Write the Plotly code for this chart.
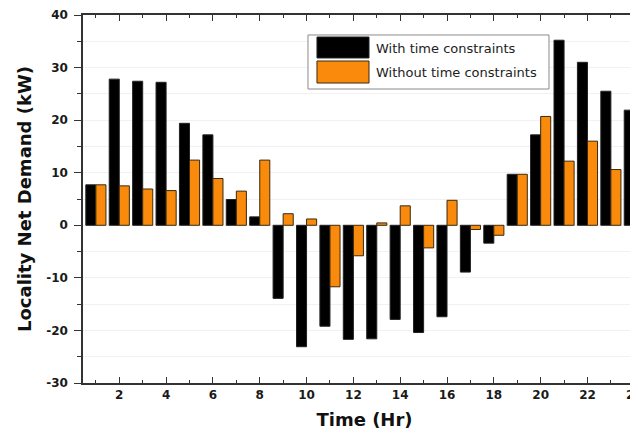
import plotly.graph_objects as go

hours = list(range(1, 25))
with_tc = [7.7, 27.8, 27.4, 27.2, 19.4, 17.2, 4.9, 1.6, -13.9, -23.1, -19.2, -21.7,
           -21.6, -17.9, -20.4, -17.4, -8.9, -3.4, 9.7, 17.2, 35.2, 31.0, 25.5, 21.9]
without_tc = [7.7, 7.5, 6.9, 6.6, 12.4, 8.9, 6.5, 12.4, 2.2, 1.2, -11.7, -5.8,
              0.45, 3.7, -4.3, 4.75, -0.8, -1.9, 9.7, 20.7, 12.2, 16.0, 10.6, 8.9]
series_names = ["With time constraints", "Without time constraints"]
x_tickvals = [2, 4, 6, 8, 10, 12, 14, 16, 18, 20, 22, 24]
x_minorvals = [1, 3, 5, 7, 9, 11, 13, 15, 17, 19, 21, 23]
y_tickvals = [-30, -20, -10, 0, 10, 20, 30, 40]

COLORS = ["#000000", "#F98A0B"]
OUTLINES = ["#222222", "#3a2a10"]
FONT = "DejaVu Sans, Verdana, sans-serif"

fig = go.Figure()
for name, vals, col, ol in zip(series_names, [with_tc, without_tc], COLORS, OUTLINES):
    fig.add_trace(go.Bar(x=hours, y=vals, name=name,
                         marker=dict(color=col, line=dict(color=ol, width=1))))

fig.update_layout(
    width=638, height=433,
    margin=dict(l=75, r=0, t=7, b=58),
    paper_bgcolor="white", plot_bgcolor="white",
    barmode="group", bargap=0.14, bargroupgap=0,
    font=dict(family=FONT, color="#111111"),
    showlegend=False,
)

# legend box drawn as a framed panel with wide colour swatches
fig.add_shape(type="rect", xref="paper", yref="paper", x0=0.3996, x1=0.8277, y0=0.7989, y1=0.9457,
              line=dict(color="#8a8a8a", width=1), fillcolor="white", layer="above")
sw_y = [(0.8832, 0.9402), (0.8152, 0.875)]
txt_y = [0.9103, 0.8451]
for i, name in enumerate(series_names):
    fig.add_shape(type="rect", xref="paper", yref="paper", x0=0.4156, x1=0.5080,
                  y0=sw_y[i][0], y1=sw_y[i][1], fillcolor=COLORS[i],
                  line=dict(color=OUTLINES[i], width=1), layer="above")
    fig.add_annotation(xref="paper", yref="paper", x=0.5169, y=txt_y[i], text=name,
                       showarrow=False, xanchor="left", yanchor="middle",
                       font=dict(size=13, family=FONT, color="#222222"))

fig.update_xaxes(
    range=[0.45, 24.5], tickvals=x_tickvals, ticktext=[str(v) for v in x_tickvals],
    ticks="inside", ticklen=6, tickwidth=1.2, tickcolor="#333",
    showline=True, linecolor="#333", linewidth=1.5, mirror="ticks",
    showgrid=False, zeroline=False,
    tickfont=dict(size=12, family=FONT, color="#1a1a1a", weight="bold"),
    title=dict(text="<b>Time (Hr)</b>", font=dict(size=18, family=FONT, color="#111"), standoff=12),
    minor=dict(tickvals=x_minorvals, ticks="inside", ticklen=3, tickcolor="#333"),
)
fig.update_yaxes(
    range=[-30, 40], tickvals=y_tickvals, ticktext=[str(v) for v in y_tickvals],
    ticks="outside", ticklen=7, tickwidth=1.2, tickcolor="#333",
    showline=True, linecolor="#333", linewidth=1.5, mirror=False,
    showgrid=False, zeroline=False, ticklabelstandoff=4,
    tickfont=dict(size=12, family=FONT, color="#1a1a1a", weight="bold"),
    title=dict(text="<b>Locality Net Demand (kW)</b>", font=dict(size=18, family=FONT, color="#111"), standoff=10),
    minor=dict(dtick=5, ticks="outside", ticklen=4, tickcolor="#333",
               showgrid=True, gridcolor="#f1f1f1", gridwidth=1),
)

fig.write_html("out.html")
